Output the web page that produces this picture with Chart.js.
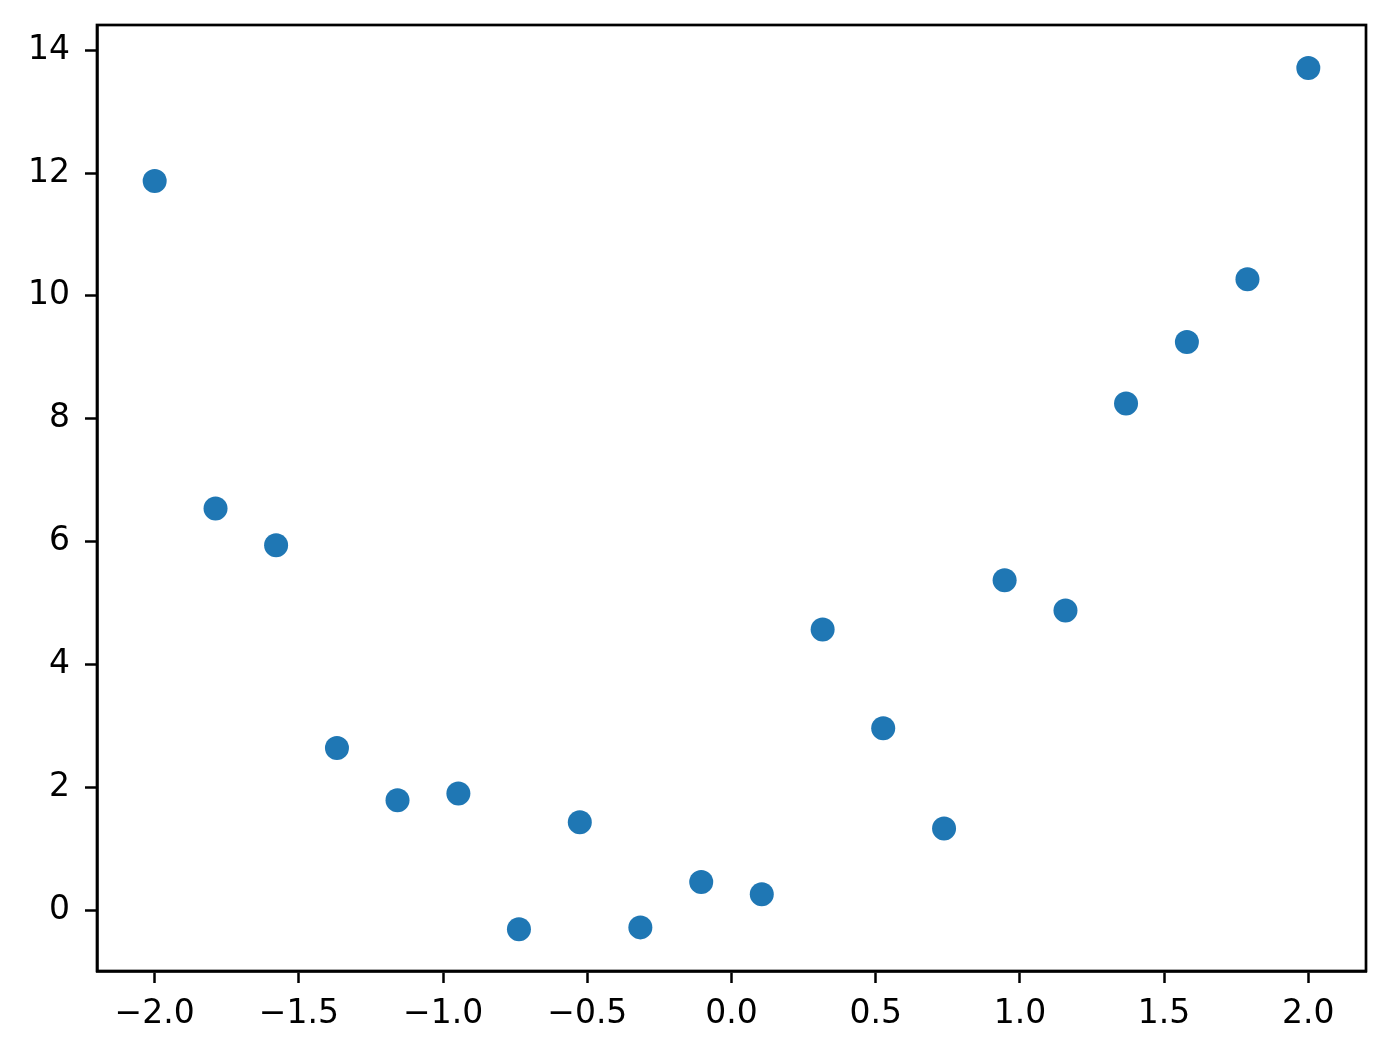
<!DOCTYPE html>
<html>
<head>
<meta charset="utf-8">
<script src="https://cdn.jsdelivr.net/npm/chart.js@4/dist/chart.umd.min.js"></script>
<style>
  html, body { margin: 0; padding: 0; background: #ffffff; }
  #wrap { width: 1390px; height: 1056px; }
</style>
</head>
<body>
<div id="wrap"><canvas id="c" width="1390" height="1056"></canvas></div>
<script>
// Data (x evenly spaced from -2 to 2, 20 points)
const xValues = [-2.000, -1.789, -1.579, -1.368, -1.158, -0.947, -0.737, -0.526, -0.316, -0.105,
                  0.105,  0.316,  0.526,  0.737,  0.947,  1.158,  1.368,  1.579,  1.789,  2.000];
const yValues = [11.87, 6.54, 5.94, 2.64, 1.79, 1.90, -0.31, 1.43, -0.28, 0.46,
                  0.26, 4.57, 2.96, 1.33, 5.37, 4.88, 8.25, 9.25, 10.27, 13.71];
const xTicks = [-2.0, -1.5, -1.0, -0.5, 0.0, 0.5, 1.0, 1.5, 2.0];
const yTicks = [0, 2, 4, 6, 8, 10, 12, 14];

const points = xValues.map((x, i) => ({ x: x, y: yValues[i] }));

const frame = {
  id: 'frame',
  afterDraw(chart) {
    const a = chart.chartArea, ctx = chart.ctx;
    ctx.save();
    ctx.strokeStyle = '#000';
    ctx.lineWidth = 2.7;
    ctx.strokeRect(a.left, a.top, a.right - a.left, a.bottom - a.top);
    ctx.restore();
  }
};

const fmt = v => (Math.abs(v) < 1e-9 ? 0 : v);

new Chart(document.getElementById('c'), {
  type: 'scatter',
  data: {
    datasets: [{
      data: points,
      backgroundColor: '#1f77b4',
      borderColor: '#1f77b4',
      borderWidth: 0,
      pointRadius: 12,
      pointHoverRadius: 12
    }]
  },
  options: {
    responsive: false,
    animation: false,
    devicePixelRatio: 1,
    layout: { padding: { left: 0, top: 25, right: 24, bottom: 0 } },
    plugins: { legend: { display: false }, tooltip: { enabled: false } },
    scales: {
      x: {
        type: 'linear',
        min: -2.2,
        max: 2.2,
        afterBuildTicks: s => { s.ticks = xTicks.map(v => ({ value: v })); },
        afterFit: s => { s.height = 85; s.paddingLeft = 0; s.paddingRight = 0; },
        grid: { display: true, drawOnChartArea: false, drawTicks: true, tickLength: 12, tickColor: '#000', tickWidth: 2.5 },
        border: { display: true, color: '#000', width: 2.7 },
        ticks: {
          color: '#000',
          padding: 12,
          maxRotation: 0,
          autoSkip: false,
          font: { family: 'DejaVu Sans', size: 33 },
          callback: v => fmt(v).toFixed(1).replace('-', '\u2212')
        }
      },
      y: {
        type: 'linear',
        min: -0.99,
        max: 14.41,
        afterBuildTicks: s => { s.ticks = yTicks.map(v => ({ value: v })); },
        afterFit: s => { s.width = 97; s.paddingTop = 0; s.paddingBottom = 0; },
        grid: { display: true, drawOnChartArea: false, drawTicks: true, tickLength: 12, tickColor: '#000', tickWidth: 2.5 },
        border: { display: true, color: '#000', width: 2.7 },
        ticks: {
          color: '#000',
          padding: 15,
          autoSkip: false,
          font: { family: 'DejaVu Sans', size: 33 },
          callback: v => String(fmt(v)).replace('-', '\u2212')
        }
      }
    }
  },
  plugins: [frame]
});
</script>
</body>
</html>
